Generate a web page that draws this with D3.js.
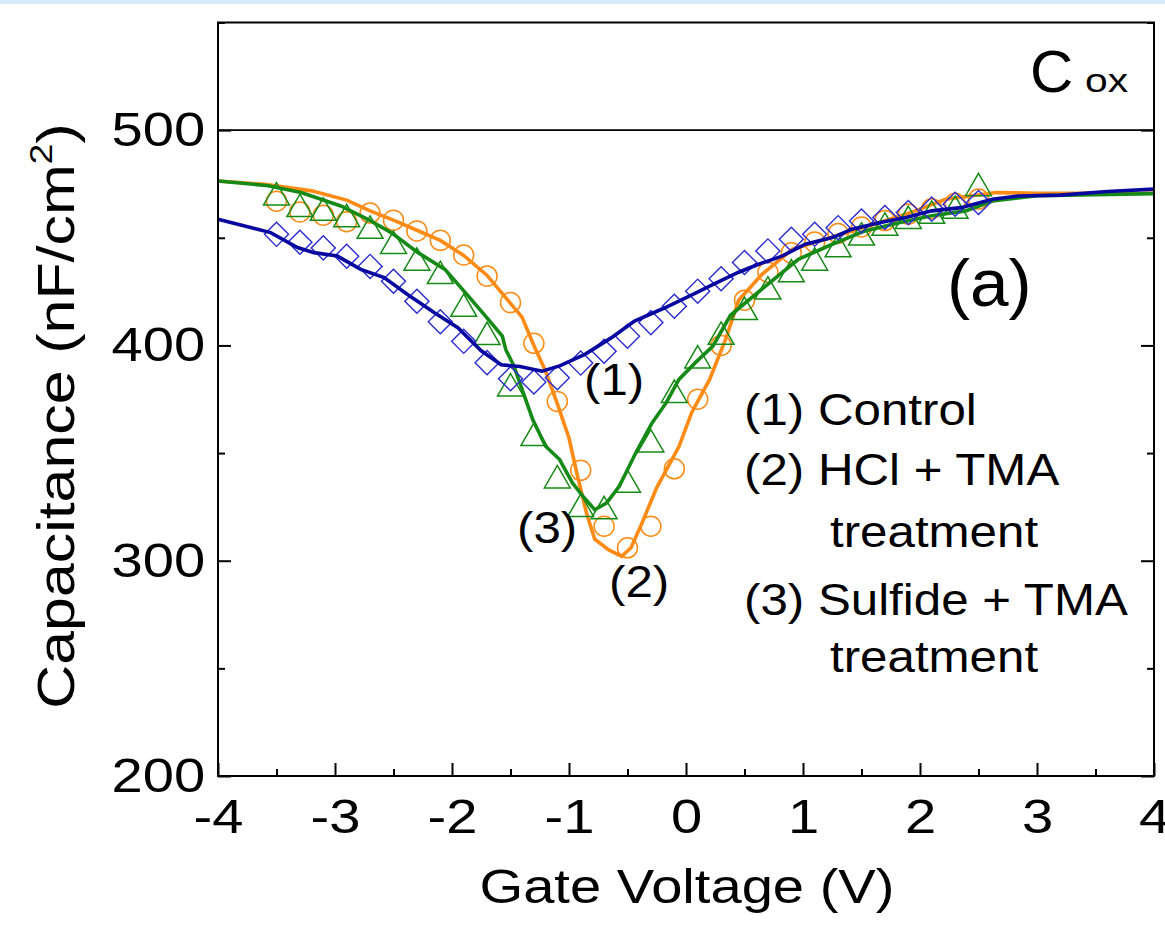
<!DOCTYPE html>
<html><head><meta charset="utf-8">
<script src="https://cdn.jsdelivr.net/npm/d3@7"></script>
<style>
html,body{margin:0;padding:0;background:#fff;}
svg{display:block;font-family:"Liberation Sans",Arial,sans-serif;}
</style></head>
<body><svg id="chart" width="1165" height="927"></svg>
<script>
// ---- data ----
const xTicks = [-4,-3,-2,-1,0,1,2,3,4];
const xMinorTicks = [-3.5,-2.5,-1.5,-0.5,0.5,1.5,2.5,3.5];
const yTicks = [200,300,400,500];
const yMinorTicks = [250,350,450,550];
const coxValue = 500;

const seriesNames = ["Control","HCl + TMA","Sulfide + TMA"];

// line traces (V, nF/cm2)
const controlLineV = [-4.0,-3.55,-3.32,-3.18,-2.98,-2.78,-2.58,-2.38,-2.15,-1.95,-1.75,-1.58,-1.42,-1.23,-1.08,-0.86,-0.64,-0.44,-0.18,0.05,0.25,0.45,0.62,0.82,1.02,1.25,1.42,1.65,1.88,2.10,2.35,2.62,2.84,3.2,3.6,4.0];
const controlLineC = [458.6,452.4,445.5,443.1,441.5,435.3,431.5,423.7,415.2,408.2,397.5,391.0,390.2,388.0,390.5,396.0,403.5,411.3,417.5,423.5,428.8,434.0,437.7,441.5,447.0,450.1,454.0,457.0,459.4,462.5,464.0,467.9,469.4,469.8,471.5,472.6];

const hclLineV = [-4.0,-3.6,-3.2,-2.9,-2.7,-2.5,-2.3,-2.1,-1.9,-1.7,-1.5,-1.4,-1.3,-1.2,-1.1,-1.0,-0.93,-0.85,-0.78,-0.66,-0.55,-0.47,-0.38,-0.25,-0.06,0.05,0.2,0.34,0.45,0.65,0.91,1.19,1.56,1.93,2.22,2.65,3.0,4.0];
const hclLineC = [476.4,474.8,471.8,467.5,462.5,458.2,453.5,448.8,441.8,432.5,419.5,413,400,388,373,357,340,322,310,305,302,306,317,334,353,369,384,403,421,433,444.7,449.3,455.5,461.9,467.9,471,470.7,470.7];

const sulfLineV = [-4.0,-3.57,-3.29,-2.95,-2.72,-2.52,-2.29,-2.06,-1.86,-1.69,-1.57,-1.54,-1.47,-1.40,-1.31,-1.20,-1.08,-0.97,-0.88,-0.78,-0.68,-0.57,-0.43,-0.29,-0.17,-0.06,0.08,0.23,0.38,0.68,0.96,1.25,1.53,1.82,2.1,2.39,2.62,3.0,4.0];
const sulfLineC = [476.4,474.2,471,464.8,458.6,452.4,443.1,435.3,422.9,412.1,404.3,398,390.4,379.5,365.6,353.2,347,336.1,329.9,323.7,326.8,334.6,350,364,373.3,384.2,392,399.7,414,427.6,440,447,453.2,457,460.2,462.5,467.1,469.5,470.5];

// marker points (every 0.2 V from -3.5 to 2.5)
const markerV = [-3.5,-3.3,-3.1,-2.9,-2.7,-2.5,-2.3,-2.1,-1.9,-1.7,-1.5,-1.3,-1.1,-0.9,-0.7,-0.5,-0.3,-0.1,0.1,0.3,0.5,0.7,0.9,1.1,1.3,1.5,1.7,1.9,2.1,2.3,2.5];
const controlMarkC = [451.6,447.9,445.3,441.4,436.7,429.8,420.5,411,401.9,392,384.5,383,385,391.8,397.3,404.3,410.6,418.2,425.2,431,438.5,443.9,449.3,451.6,454.7,457.8,459.4,461.7,463.3,465.6,466.4];
const hclMarkC = [467,462,460.5,457.5,461.5,458.2,453.2,448.8,442,432.2,419.9,401,374,342,316,306,316,342.7,375,400,421,434,443,448,452,455,458,461,463.5,466,468];
const sulfMarkC = [468.7,463.3,461.6,458.6,453.2,446.2,438.4,432.2,417,403.9,380,357,337.3,324,323,335.3,354,377,393,404,415.5,425,433,438.4,444.7,450.1,454.7,457.8,460.2,462.5,473];

const legendLines = ["(1) Control","(2) HCl + TMA","treatment","(3) Sulfide + TMA","treatment"];

// ---- layout ----
const svg = d3.select("#chart");
const L = 218, R = 1154, T = 22.5, B = 776;
const x = d3.scaleLinear().domain([-4,4]).range([L,R]);
const y = d3.scaleLinear().domain([200,550]).range([B,T]);

const colors = {blueLine:"#0808a0", blueMark:"#2a2ad2", orange:"#ff8a14", green:"#168a16"};

// helper for horizontally stretched text
function stext(parent, str, px, py, size, sx, anchor){
  return parent.append("text")
    .attr("transform",`translate(${px},${py}) scale(${sx},1)`)
    .attr("font-size",size).attr("text-anchor",anchor||"start").attr("fill","#000").text(str);
}

// top light strip
svg.append("rect").attr("x",0).attr("y",0).attr("width",1165).attr("height",4).attr("fill","#d6ebfb");

// Cox line
svg.append("line").attr("x1",L).attr("x2",R).attr("y1",y(coxValue)).attr("y2",y(coxValue))
  .attr("stroke","#000").attr("stroke-width",1.6);

const line = d3.line().x(d=>x(d[0])).y(d=>y(d[1]));
const zip = (a,b)=>a.map((v,i)=>[v,b[i]]);

const plot = svg.append("g");

// HCl (orange)
plot.append("g").selectAll("circle").data(zip(markerV,hclMarkC)).join("circle")
  .attr("cx",d=>x(d[0])).attr("cy",d=>y(d[1])).attr("r",10)
  .attr("fill","none").attr("stroke",colors.orange).attr("stroke-width",1.5);
plot.append("path").datum(zip(hclLineV,hclLineC)).attr("d",line)
  .attr("fill","none").attr("stroke",colors.orange).attr("stroke-width",3.6);

// Sulfide (green)
const tri = d3.symbol().type(d3.symbolTriangle).size(290);
plot.append("g").selectAll("path").data(zip(markerV,sulfMarkC)).join("path")
  .attr("d",tri).attr("transform",d=>`translate(${x(d[0])},${y(d[1])})`)
  .attr("fill","none").attr("stroke",colors.green).attr("stroke-width",1.5);
plot.append("path").datum(zip(sulfLineV,sulfLineC)).attr("d",line)
  .attr("fill","none").attr("stroke",colors.green).attr("stroke-width",3.6);

// Control (blue)
const dia = d3.symbol().type(d3.symbolSquare).size(290);
plot.append("g").selectAll("path").data(zip(markerV,controlMarkC)).join("path")
  .attr("d",dia).attr("transform",d=>`translate(${x(d[0])},${y(d[1])}) rotate(45)`)
  .attr("fill","none").attr("stroke",colors.blueMark).attr("stroke-width",1.4);
plot.append("path").datum(zip(controlLineV,controlLineC)).attr("d",line)
  .attr("fill","none").attr("stroke",colors.blueLine).attr("stroke-width",3.6);

// frame
svg.append("rect").attr("x",L).attr("y",T).attr("width",R-L).attr("height",B-T)
  .attr("fill","none").attr("stroke","#000").attr("stroke-width",2);

// axes
const fs = 48, sxTick = 1.17;
const styleAxis = g => { g.select(".domain").remove(); g.selectAll(".tick line").attr("stroke","#000").attr("stroke-width",2); };

svg.append("g").attr("transform",`translate(0,${B})`)
  .call(d3.axisBottom(x).tickValues(xMinorTicks).tickSize(-7).tickFormat(""))
  .call(styleAxis);
const xa = svg.append("g").attr("transform",`translate(0,${B})`)
  .call(d3.axisBottom(x).tickValues(xTicks).tickSize(-13).tickPadding(23).tickFormat(d3.format("d")))
  .call(styleAxis);
xa.selectAll("text").attr("font-size",fs).attr("fill","#000").attr("font-family","Liberation Sans, Arial, sans-serif")
  .attr("transform",`scale(${sxTick},1)`).text(d=>String(d));

svg.append("g").attr("transform",`translate(${L},0)`)
  .call(d3.axisLeft(y).tickValues(yMinorTicks).tickSize(-7).tickFormat(""))
  .call(styleAxis);
const ya = svg.append("g").attr("transform",`translate(${L},0)`)
  .call(d3.axisLeft(y).tickValues(yTicks).tickSize(-13).tickPadding(11).tickFormat(d3.format("d")))
  .call(styleAxis);
ya.selectAll("text").attr("font-size",fs).attr("fill","#000").attr("font-family","Liberation Sans, Arial, sans-serif")
  .attr("transform",`scale(${sxTick},1)`);

svg.append("g").attr("transform",`translate(${R},0)`)
  .call(d3.axisRight(y).tickValues(yMinorTicks).tickSize(-7).tickFormat(""))
  .call(styleAxis);
svg.append("g").attr("transform",`translate(${R},0)`)
  .call(d3.axisRight(y).tickValues(yTicks).tickSize(-13).tickFormat(""))
  .call(styleAxis);

// axis titles
stext(svg,"Gate Voltage (V)",687,903,48,1.17,"middle");
const yt = svg.append("text").attr("transform",`translate(74,416) rotate(-90) scale(1.17,1)`)
  .attr("text-anchor","middle").attr("font-size",52);
yt.append("tspan").text("Capacitance (nF/cm");
yt.append("tspan").attr("font-size",32).attr("dy",-22).text("2");
yt.append("tspan").attr("dy",22).text(")");

// Cox label
stext(svg,"C",1030,92,60,1.0);
stext(svg,"ox",1085,92,34,1.2);

// (a)
stext(svg,"(a)",947,306,66,1.05);

// curve annotations
stext(svg,"(1)",584,395,44,1.12);
stext(svg,"(3)",517,543,44,1.12);
stext(svg,"(2)",609,597,44,1.12);

// legend text
const legX = [744,744,830,744,830];
const legY = [425,485,547,615,672];
const lg = svg.append("g");
legendLines.forEach((d,i)=>stext(lg,d,legX[i],legY[i],44,1.12));
</script>
</body></html>
